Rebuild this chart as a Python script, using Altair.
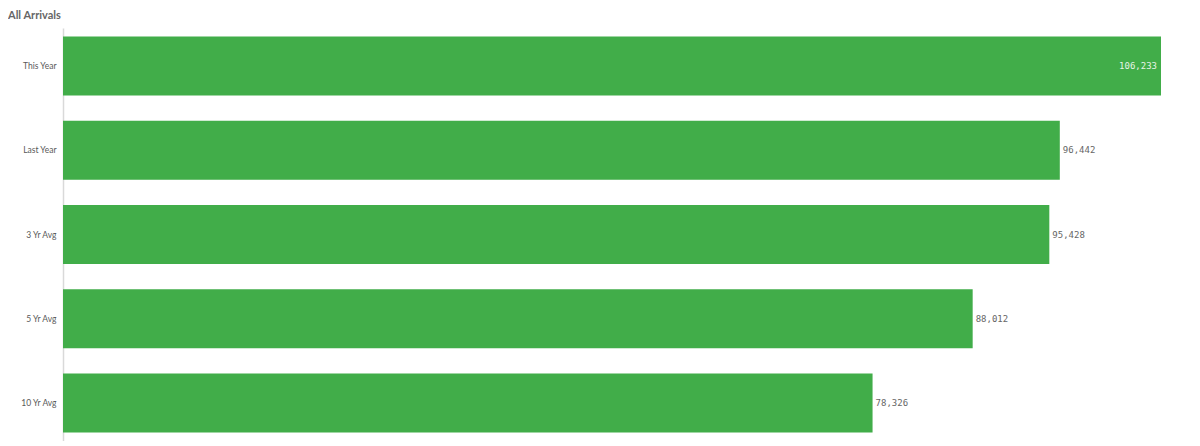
import altair as alt
import pandas as pd

categories = ["This Year", "Last Year", "3 Yr Avg", "5 Yr Avg", "10 Yr Avg"]
values = [106233, 96442, 95428, 88012, 78326]

df = pd.DataFrame({"cat": categories, "val": values})
df["label"] = df["val"].map(lambda v: f"{v:,}")
df["inside"] = df["val"] == max(values)

BAR = "#41ad49"

x = alt.X("val:Q", scale=alt.Scale(domain=[0, 106233], nice=False, zero=True), axis=None)
y = alt.Y("cat:N", sort=categories,
          scale=alt.Scale(paddingInner=0.3, paddingOuter=0.1),
          axis=alt.Axis(title=None, ticks=False, labelPadding=7, labelFontSize=8.5,
                        labelColor="#595959", labelFont="Lato", domainColor="#d9d9d9",
                        domainWidth=1.5, grid=False, minExtent=55, maxExtent=55))

bars = alt.Chart(df).mark_bar(color=BAR).encode(x=x, y=y)

outside = alt.Chart(df).transform_filter("!datum.inside").mark_text(
    align="left", baseline="middle", dx=3, fontSize=9, color="#666666", font="DejaVu Sans Mono"
).encode(x=x, y=y, text="label:N")

inside = alt.Chart(df).transform_filter("datum.inside").mark_text(
    align="right", baseline="middle", dx=-4, fontSize=9, color="#e6f4e6", font="DejaVu Sans Mono"
).encode(x=x, y=y, text="label:N")

chart = (bars + outside + inside).properties(
    width=1098, height=413,
    title=alt.TitleParams("All Arrivals", anchor="start", frame="bounds", fontSize=11,
                          fontWeight="bold", color="#666666", font="Lato", offset=7),
    padding={"left": 0, "top": 2, "right": 0, "bottom": 0},
).configure_view(stroke=None)

chart.save("out.html", embed_options={"renderer": "svg", "actions": False})
